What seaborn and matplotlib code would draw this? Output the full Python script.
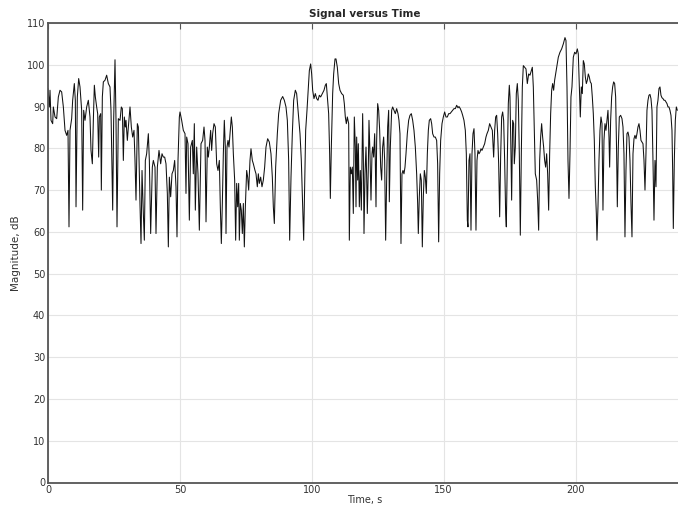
import matplotlib
matplotlib.use("Agg")
import matplotlib.pyplot as plt
import seaborn as sns
import pandas as pd

# (time s, magnitude dB), in four stretches
trace_a = [(0, 94.3), (0.51, 89.9), (0.76, 93.9), (1.14, 86.7), (1.77, 85.9), (2.02, 89.9), (2.66, 87.5),
           (3.29, 87.1), (3.92, 92.3), (4.55, 93.9), (5.18, 93.5), (5.82, 89.9), (6.45, 84.3), (7.08, 83.1),
           (7.58, 84.3), (7.96, 61.2), (8.34, 84.3), (8.97, 87.1), (9.35, 91.5), (9.98, 95.5), (10.36, 91.5),
           (10.62, 66.0), (11.12, 92.3), (11.63, 96.7), (12.13, 94.7), (12.76, 89.1), (13.14, 65.2), (13.52, 89.1),
           (14.03, 86.7), (14.66, 89.9), (15.29, 91.5), (15.92, 87.5), (16.30, 79.5), (16.81, 76.3), (17.19, 86.7),
           (17.57, 95.1), (17.95, 92.3), (18.45, 89.9), (18.83, 88.3), (19.21, 77.9), (19.46, 87.5), (19.97, 88.3),
           (20.22, 70.0), (20.60, 92.3), (20.98, 95.9), (21.61, 96.3), (22.24, 97.5), (22.87, 95.5), (23.50, 94.7),
           (23.88, 89.1), (24.52, 65.2), (24.89, 86.7), (25.40, 101.2), (25.78, 86.7), (26.16, 61.2), (26.66, 87.1),
           (27.30, 86.7), (27.80, 89.9), (28.18, 89.5), (28.56, 77.1), (28.94, 87.5), (29.32, 85.1), (29.57, 86.7),
           (30.08, 81.9), (30.46, 85.1), (31.09, 89.9), (31.59, 85.1), (32.10, 82.7), (32.60, 84.3), (32.98, 77.1),
           (33.36, 67.6), (33.87, 85.9), (34.25, 85.1), (34.88, 66.4), (35.26, 57.2), (35.64, 74.7), (36.14, 64.4),
           (36.52, 58.0), (36.90, 77.1), (37.40, 78.7), (38.04, 83.5), (38.42, 77.1), (38.92, 59.6), (39.55, 75.5),
           (39.93, 77.1), (40.56, 75.5), (40.94, 59.6), (41.45, 75.5), (42.08, 79.5), (42.71, 76.3), (43.22, 78.7),
           (43.72, 77.9), (44.23, 77.9), (44.73, 76.3), (45.24, 69.2), (45.62, 56.4), (46.00, 73.1), (46.50, 68.4),
           (47.01, 73.9), (47.51, 74.7), (48.02, 77.1), (48.52, 70.8), (48.90, 58.8), (49.28, 77.1), (49.79, 87.5),
           (50.04, 88.7), (50.67, 86.7), (51.30, 84.3), (51.94, 83.5), (52.31, 69.2), (52.57, 82.7), (53.07, 81.1),
           (53.58, 62.8), (54.08, 80.3), (54.72, 81.9), (55.09, 73.9), (55.47, 85.9), (55.85, 65.2), (56.36, 80.3),
           (56.86, 73.9), (57.37, 60.4)]

trace_b = [(58.0, 81.1), (58.63, 81.9), (59.14, 85.1), (59.52, 81.9), (59.90, 62.4), (60.40, 80.3), (60.78, 77.9),
           (61.16, 80.3), (61.66, 84.3), (62.04, 79.5), (62.42, 83.5), (62.93, 85.9), (63.43, 85.1), (63.94, 76.3),
           (64.44, 74.7), (64.95, 77.1), (65.33, 66.0), (65.71, 57.2), (66.09, 66.8), (66.47, 78.7), (66.84, 86.7),
           (67.22, 80.3), (67.48, 59.6), (67.86, 80.3), (68.24, 81.9), (68.61, 80.3), (68.99, 83.5), (69.50, 87.5),
           (69.88, 85.1), (70.26, 78.7), (70.76, 72.4), (71.14, 58.0), (71.52, 71.6), (71.90, 66.0), (72.28, 71.6),
           (72.53, 58.0), (72.91, 66.8), (73.29, 65.2), (73.67, 59.6), (74.05, 66.8), (74.43, 56.4), (74.81, 66.0),
           (75.31, 74.7), (75.69, 73.1), (76.07, 70.0), (76.57, 77.1), (76.95, 79.9), (77.46, 77.1), (77.84, 76.3),
           (78.47, 74.7), (78.85, 73.9), (79.35, 70.8), (79.73, 73.9), (80.11, 71.6), (80.62, 73.1), (81.12, 70.8),
           (81.63, 72.4), (82.13, 75.5), (82.64, 80.3), (83.27, 82.3), (83.90, 81.5), (84.53, 78.7), (85.04, 73.1),
           (85.42, 66.0), (85.80, 62.0), (86.30, 75.5), (86.94, 83.5), (87.44, 88.3), (88.20, 91.5), (88.96, 92.4),
           (89.59, 91.5), (90.22, 89.9), (90.73, 86.7), (91.23, 77.1), (91.61, 58.0), (92.12, 73.1), (92.62, 83.5),
           (93.13, 91.5), (93.76, 93.9), (94.26, 93.1), (94.90, 88.3), (95.53, 83.5), (96.03, 77.1), (96.54, 66.0),
           (96.92, 58.0), (97.30, 70.8), (97.68, 84.3), (98.18, 89.1), (98.69, 94.7), (99.07, 98.6), (99.57, 100.2),
           (99.95, 97.8), (100.33, 93.9), (100.83, 91.9), (101.34, 93.1), (101.85, 91.9), (102.35, 91.5),
           (102.86, 92.7), (103.36, 92.3), (104.0, 93.1), (104.63, 93.9), (105.13, 95.1), (105.51, 95.5),
           (105.89, 92.3), (106.39, 88.3), (106.77, 78.7), (107.03, 68.0), (107.41, 80.3), (107.91, 93.1),
           (108.29, 97.8), (108.80, 101.4), (109.17, 101.4), (109.68, 99.4), (110.19, 95.5), (110.69, 93.9),
           (111.32, 93.1), (111.95, 92.7), (112.33, 90.7), (112.71, 87.5), (113.09, 85.9), (113.47, 87.5),
           (113.98, 85.9), (114.23, 58.0)]

trace_c = [(114.61, 75.5), (114.99, 73.9), (115.37, 75.5), (115.74, 64.4), (116.12, 87.5), (116.50, 80.3),
           (116.76, 66.0), (117.01, 82.7), (117.39, 72.4), (117.64, 81.1), (118.02, 66.0), (118.40, 74.7),
           (118.78, 65.2), (119.03, 77.1), (119.28, 88.3), (119.53, 78.7), (119.79, 59.6), (120.17, 73.9),
           (120.55, 80.3), (120.80, 73.1), (121.05, 64.4), (121.43, 75.5), (121.68, 86.7), (122.06, 78.7),
           (122.44, 67.6), (122.82, 78.7), (123.07, 80.3), (123.45, 77.9), (123.83, 83.5), (124.08, 77.1),
           (124.34, 66.0), (124.59, 81.9), (124.97, 90.7), (125.35, 89.1), (125.73, 84.3), (126.11, 75.5),
           (126.48, 72.4), (126.86, 80.3), (127.24, 82.7), (127.62, 77.1), (128.0, 58.0), (128.38, 72.4),
           (128.76, 85.1), (129.14, 89.1), (129.39, 67.2), (129.77, 80.3), (130.28, 89.1), (130.65, 89.9),
           (131.16, 89.1), (131.66, 88.3), (132.17, 89.5), (132.68, 88.3), (133.05, 86.7), (133.43, 83.5),
           (133.81, 57.2), (134.19, 73.9), (134.57, 74.7), (134.95, 73.9), (135.33, 75.5), (135.71, 78.7),
           (136.21, 83.5), (136.72, 86.7), (137.22, 87.9), (137.73, 88.3), (138.24, 86.7), (138.74, 84.3),
           (139.25, 80.3), (139.75, 73.9), (140.13, 66.8), (140.38, 59.6), (140.76, 68.4), (141.14, 73.9),
           (141.52, 72.4), (141.90, 56.4), (142.28, 68.4), (142.66, 74.7), (143.04, 73.1), (143.42, 69.2),
           (143.80, 78.7), (144.18, 84.3), (144.55, 86.7), (145.06, 87.1), (145.44, 85.9), (145.82, 83.5),
           (146.32, 82.7), (146.83, 82.7), (147.33, 81.9), (147.71, 76.3), (148.09, 57.6), (148.47, 73.9),
           (148.85, 81.9), (149.36, 85.9), (149.86, 87.5), (150.37, 88.7), (150.87, 87.5), (151.38, 87.5),
           (151.88, 88.3), (152.39, 88.3), (152.89, 88.7), (153.40, 89.1), (153.90, 89.5), (154.41, 89.5),
           (154.92, 90.3), (155.42, 89.7), (155.80, 90.0), (156.30, 89.5), (156.81, 88.7), (157.19, 87.9),
           (157.69, 86.7), (158.20, 84.3), (158.58, 78.7), (158.96, 62.8), (159.21, 61.2), (159.59, 77.1),
           (159.97, 78.7), (160.35, 60.4), (160.73, 78.7), (161.11, 83.5), (161.49, 84.7), (161.86, 78.7),
           (162.24, 60.4), (162.62, 77.1), (163.0, 79.5), (163.38, 78.7), (163.76, 79.1), (164.14, 79.9),
           (164.52, 79.5), (165.02, 80.3), (165.53, 81.1), (166.03, 82.7), (166.41, 83.5), (166.92, 84.3),
           (167.42, 85.9), (167.93, 85.1), (168.44, 84.3), (168.94, 77.9), (169.32, 84.3), (169.70, 87.5),
           (170.08, 87.9), (170.46, 83.5), (170.84, 76.3), (171.22, 63.6), (171.59, 77.9), (171.97, 87.5),
           (172.35, 88.7), (172.73, 86.7), (173.11, 77.1), (173.49, 64.4), (173.74, 61.2), (174.12, 77.1),
           (174.50, 90.7), (174.88, 95.1)]

trace_d = [(175.13, 92.3), (175.51, 78.7), (175.76, 67.6), (176.14, 86.7), (176.52, 85.9), (176.77, 76.3),
           (177.15, 80.3), (177.53, 93.1), (177.91, 95.5), (178.29, 91.5), (178.67, 78.7), (179.05, 59.2),
           (179.43, 78.7), (179.81, 94.7), (180.19, 99.8), (180.69, 99.4), (181.20, 99.0), (181.70, 95.5),
           (182.21, 97.8), (182.71, 97.5), (183.22, 98.6), (183.60, 99.4), (183.98, 94.7), (184.35, 84.3),
           (184.73, 73.9), (185.24, 72.4), (185.62, 67.6), (186.0, 60.4), (186.38, 77.1), (186.76, 82.7),
           (187.13, 85.9), (187.51, 82.7), (187.89, 80.3), (188.27, 77.1), (188.65, 75.5), (189.03, 78.7),
           (189.41, 73.9), (189.79, 65.2), (190.17, 78.7), (190.55, 88.3), (190.93, 93.9), (191.30, 95.5),
           (191.68, 93.9), (192.06, 96.3), (192.44, 97.8), (192.82, 99.4), (193.45, 101.8), (194.08, 103.0),
           (194.72, 103.8), (195.35, 105.0), (195.98, 106.5), (196.36, 105.8), (196.74, 94.7), (197.12, 77.1),
           (197.50, 68.0), (197.88, 78.7), (198.25, 92.3), (198.63, 94.7), (199.14, 101.8), (199.64, 103.0),
           (200.15, 102.6), (200.66, 103.8), (201.03, 102.6), (201.41, 94.7), (201.79, 87.5), (202.17, 94.7),
           (202.55, 93.1), (202.93, 101.0), (203.31, 100.2), (203.69, 97.1), (204.07, 95.5), (204.45, 96.3),
           (204.83, 97.8), (205.20, 97.1), (205.58, 95.9), (205.96, 95.5), (206.34, 92.3), (206.72, 88.3),
           (207.10, 81.9), (207.48, 70.8), (207.86, 64.4), (208.11, 58.0), (208.49, 66.0), (208.87, 77.1),
           (209.25, 84.3), (209.63, 87.5), (210.01, 85.9), (210.38, 65.2), (210.76, 81.9), (211.14, 85.9),
           (211.52, 84.3), (211.90, 86.7), (212.28, 89.1), (212.66, 82.7), (212.91, 75.5), (213.29, 86.7),
           (213.67, 92.3), (214.05, 94.7), (214.43, 95.9), (214.81, 95.5), (215.19, 92.3), (215.56, 78.7),
           (215.82, 66.0), (216.20, 80.3), (216.58, 87.5), (217.08, 87.9), (217.59, 87.1), (217.97, 85.1),
           (218.34, 78.7), (218.72, 58.8), (219.10, 74.7), (219.48, 83.5), (219.86, 83.9), (220.24, 82.7),
           (220.62, 77.1), (221.0, 66.8), (221.38, 58.8), (221.76, 78.7), (222.14, 82.3), (222.51, 83.1),
           (222.89, 82.3), (223.27, 83.5), (223.65, 85.1), (224.03, 85.9), (224.41, 84.3), (224.79, 81.9),
           (225.17, 81.5), (225.55, 81.1), (225.93, 77.1), (226.31, 70.0), (226.68, 78.7), (227.06, 89.1),
           (227.44, 91.5), (227.82, 92.7), (228.20, 92.9), (228.58, 91.9), (228.96, 89.1), (229.34, 77.1),
           (229.72, 62.8), (230.10, 77.1), (230.48, 70.8), (230.85, 89.9), (231.23, 91.5), (231.61, 94.3),
           (231.99, 94.7), (232.37, 92.7), (232.75, 92.1), (233.13, 91.9), (233.51, 91.5), (233.89, 91.5),
           (234.27, 91.1), (234.65, 90.7), (235.03, 89.9), (235.40, 89.9), (235.78, 89.1), (236.16, 87.9),
           (236.54, 84.3), (236.80, 74.7), (237.05, 60.8), (237.43, 77.1), (237.81, 86.7), (238.19, 89.9),
           (238.57, 89.1)]

x_ticks = [0, 50, 100, 150, 200]
y_ticks = [0, 10, 20, 30, 40, 50, 60, 70, 80, 90, 100, 110]
title_text = "Signal versus Time"
x_label = "Time, s"
y_label = "Magnitude, dB"

rows = trace_a + trace_b + trace_c + trace_d
df = pd.DataFrame(rows, columns=["time", "magnitude"])

sns.set_style("white")
plt.rcParams["font.family"] = ["DejaVu Sans"]

fig = plt.figure(figsize=(6.78, 5.14), dpi=100)
ax = fig.add_axes([48 / 678, 1 - 482.5 / 514, 633.1 / 678, 459.5 / 514])

sns.lineplot(data=df, x="time", y="magnitude", ax=ax, estimator=None, sort=False,
             color="#111111", linewidth=0.75)

ax.set_xlim(0, 240)
ax.set_ylim(0, 110)
ax.set_xticks(x_ticks)
ax.set_yticks(y_ticks)
ax.grid(True, color="#e4e4e4", linewidth=0.8)
ax.set_axisbelow(True)
for name, s in ax.spines.items():
    s.set_color("#555555")
    s.set_linewidth(1.3)
    s.set_visible(name != "right")
ax.tick_params(direction="in", length=4, width=0.8, colors="#555555", labelcolor="#333333",
               labelsize=7, top=True, right=False, pad=2)
ax.set_title(title_text, fontsize=7.5, fontweight="bold", pad=4)
ax.set_xlabel(x_label, fontsize=7, color="#333333", labelpad=0)
ax.set_ylabel(y_label, fontsize=7.5, color="#333333", labelpad=4)

fig.savefig("out.png", dpi=100)
